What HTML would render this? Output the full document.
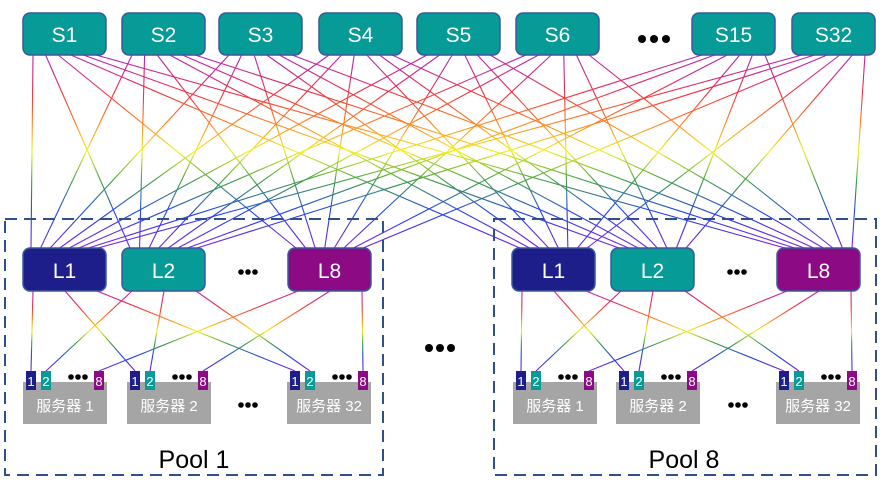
<!DOCTYPE html>
<html><head><meta charset="utf-8"><style>
html,body{margin:0;padding:0;background:#fff;width:885px;height:485px;overflow:hidden}
svg{display:block}
text{font-family:"Liberation Sans","Noto Sans CJK SC",sans-serif}
</style></head><body>
<svg id="s" width="885" height="485" xmlns="http://www.w3.org/2000/svg">
<defs>
<linearGradient id="g1" gradientUnits="userSpaceOnUse" x1="0" y1="55" x2="0" y2="248">
<stop offset="0" stop-color="#b020c0"/><stop offset="0.2" stop-color="#f03040"/>
<stop offset="0.35" stop-color="#ff8020"/><stop offset="0.5" stop-color="#f0f020"/>
<stop offset="0.65" stop-color="#40a040"/><stop offset="0.82" stop-color="#2040f0"/>
<stop offset="1" stop-color="#8020e0"/></linearGradient>
<linearGradient id="g2" gradientUnits="userSpaceOnUse" x1="0" y1="291" x2="0" y2="371">
<stop offset="0" stop-color="#c020c0"/><stop offset="0.2" stop-color="#f03040"/>
<stop offset="0.35" stop-color="#ff8020"/><stop offset="0.5" stop-color="#f0f020"/>
<stop offset="0.65" stop-color="#40a040"/><stop offset="0.82" stop-color="#2040f0"/>
<stop offset="1" stop-color="#8020e0"/></linearGradient>
</defs>
<g id="lines"></g>
<g id="fg"></g>
</svg>
<script>
var NS="http://www.w3.org/2000/svg";
var lines=document.getElementById('lines'),fg=document.getElementById('fg');
function el(p,t,a,txt){var e=document.createElementNS(NS,t);for(var k in a)e.setAttribute(k,a[k]);if(txt!=null)e.textContent=txt;p.appendChild(e);return e;}
var S=[["S1",23],["S2",122],["S3",219],["S4",319],["S5",417],["S6",516],["S15",692],["S32",792]];
var L=[["L1",23,"#1e1e8a"],["L2",122,"#069b96"],["L8",288,"#8c0a84"],["L1",512,"#1e1e8a"],["L2",611,"#069b96"],["L8",777,"#8c0a84"]];
S.forEach(function(s,i){L.forEach(function(l,j){
 var x1=s[1]+10+j*(63/5),x2=l[1]+8+i*(67/7);
 el(lines,'line',{x1:x1,y1:55,x2:x2,y2:248,stroke:'url(#g1)','stroke-width':1.1});
});});
function dots(cx,cy,r,gap){for(var i=-1;i<=1;i++)el(fg,'circle',{cx:cx+i*gap,cy:cy,r:r,fill:'#000'});}
var pools=[{off:0,sv:[[23,"服务器 1"],[127,"服务器 2"],[287,"服务器 32"]]},{off:489,sv:[[513,"服务器 1"],[616,"服务器 2"],[776,"服务器 32"]]}];
var portOff=[3,18,71],portLab=["1","2","8"],portCol=["#1e1e8a","#069b96","#8c0a84"];
pools.forEach(function(p,pi){
 for(var li=0;li<3;li++){var l=L[pi*3+li];
  p.sv.forEach(function(sv,k){
   var x1=l[1]+10+k*32,x2=sv[0]+portOff[li]+5;
   el(lines,'line',{x1:x1,y1:291,x2:x2,y2:371,stroke:'url(#g2)','stroke-width':1.1});
  });}
 p.sv.forEach(function(sv){
  el(fg,'rect',{x:sv[0],y:382,width:84,height:42,fill:'#a5a5a5'});
  el(fg,'text',{x:sv[0]+42,y:411,'font-size':15,fill:'#fff','text-anchor':'middle'},sv[1]);
  for(var q=0;q<3;q++){
   el(fg,'rect',{x:sv[0]+portOff[q],y:371,width:10,height:19,fill:portCol[q]});
   el(fg,'text',{x:sv[0]+portOff[q]+5,y:386,'font-size':13,fill:'#fff','text-anchor':'middle'},portLab[q]);
  }
  dots(sv[0]+55,377,2.8,7);
 });
});
el(fg,'rect',{x:5,y:219,width:378,height:256,fill:'none',stroke:'#2f4f8f','stroke-width':2,'stroke-dasharray':'12,7'});
el(fg,'rect',{x:494,y:219,width:382,height:256,fill:'none',stroke:'#2f4f8f','stroke-width':2,'stroke-dasharray':'12,7'});
S.forEach(function(s){
 el(fg,'rect',{x:s[1],y:13,width:83,height:42,rx:7,fill:'#069b96',stroke:'#3a5a9a','stroke-width':1.5});
 el(fg,'text',{x:s[1]+41.5,y:42,'font-size':21,fill:'#fff','text-anchor':'middle'},s[0]);
});
L.forEach(function(l){
 el(fg,'rect',{x:l[1],y:248,width:83,height:43,rx:7,fill:l[2],stroke:'#3a5a9a','stroke-width':1.5});
 el(fg,'text',{x:l[1]+41.5,y:278,'font-size':21,fill:'#fff','text-anchor':'middle'},l[0]);
});
dots(654,39,4,12);dots(248,272,2.8,7);dots(737,272,2.8,7);dots(248,405,2.8,7);dots(738,405,2.8,7);dots(440,348,4,11);
el(fg,'text',{x:194,y:468,'font-size':25,fill:'#000','text-anchor':'middle'},"Pool 1");
el(fg,'text',{x:684,y:468,'font-size':25,fill:'#000','text-anchor':'middle'},"Pool 8");
</script>
</body></html>
